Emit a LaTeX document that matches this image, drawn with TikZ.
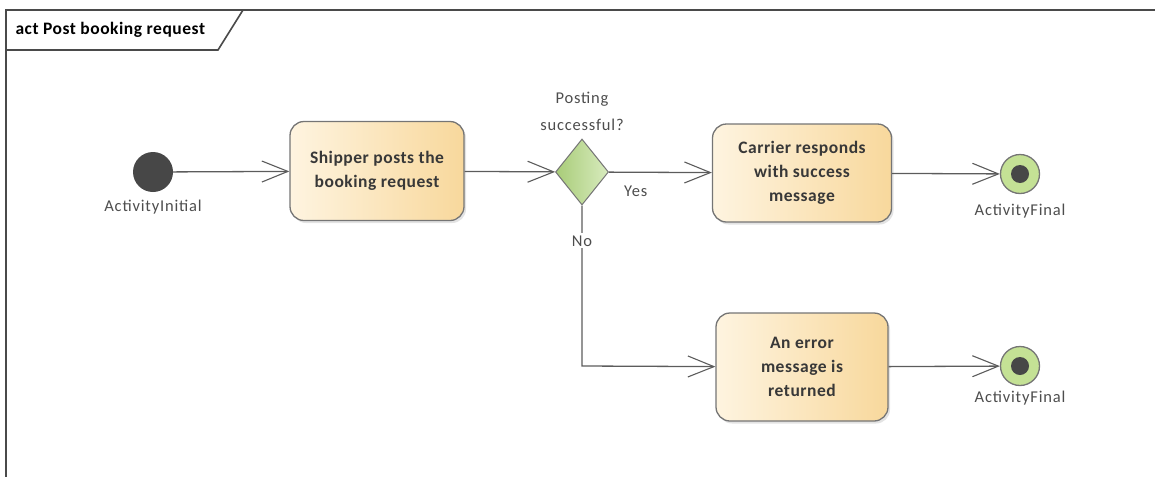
\documentclass[tikz,border=0pt]{standalone}
\usepackage{fontspec}
\setmainfont{Carlito}
\usetikzlibrary{arrows.meta,shapes.geometric,shadows}
\definecolor{framegray}{HTML}{4A4A4A}
\definecolor{linegray}{HTML}{5C5C5C}
\definecolor{boxedge}{HTML}{757575}
\definecolor{boxleft}{HTML}{FEF4E0}
\definecolor{boxright}{HTML}{F8D89C}
\definecolor{diamleft}{HTML}{A8CC78}
\definecolor{diamright}{HTML}{D8EBBE}
\definecolor{finalfill}{HTML}{C4E195}
\definecolor{dotgray}{HTML}{474747}
\definecolor{txtgray}{HTML}{383838}
\definecolor{lblgray}{HTML}{4D4D4D}
\tikzset{
  action/.style={rectangle, rounded corners=14pt, draw=boxedge, line width=1.3pt,
    left color=boxleft, right color=boxright, align=center, text=txtgray,
    font=\fontsize{17.5}{24}\selectfont\bfseries\addfontfeature{LetterSpace=3},
    drop shadow={opacity=0.22, shadow xshift=2pt, shadow yshift=-2.5pt}},
  decision/.style={diamond, draw=boxedge, line width=1pt, left color=diamleft,
    right color=diamright, inner sep=0pt, minimum width=53pt, minimum height=66pt},
  startdot/.style={circle, fill=dotgray, inner sep=0pt, minimum size=40pt},
  finalring/.style={circle, draw=boxedge, line width=1.3pt, fill=finalfill,
    inner sep=0pt, minimum size=39pt},
  finaldot/.style={circle, fill=dotgray, inner sep=0pt, minimum size=18pt},
  lbl/.style={text=lblgray, font=\fontsize{16.5}{27}\selectfont\addfontfeature{LetterSpace=5}, align=center},
  flow/.style={draw=linegray, line width=1.3pt,
    -{Straight Barb[length=26pt,width=21pt,line width=1.1pt]}},
  plain/.style={draw=linegray, line width=1.3pt}
}
\begin{document}
\begin{tikzpicture}[x=1pt,y=-1pt]
\useasboundingbox (0,0) rectangle (1155,477);
% diagram frame with name tab
\draw[framegray, line width=2pt] (1155,10) -- (6,10) -- (6,477);
\draw[framegray, line width=1.6pt] (6,50) -- (218,50) -- (243,10);
\node[anchor=west, text=black, font=\fontsize{17.5}{20}\selectfont\bfseries\addfontfeature{LetterSpace=3}] (title) at (12,30) {act Post booking request};

% nodes
\node[startdot] (init) at (153,172) {};
\node[lbl, anchor=north] (initlbl) at (153,197) {ActivityInitial};

\node[action, minimum width=174pt, minimum height=99pt] (post) at (377,171) {Shipper posts the\\booking request};

\node[decision] (dec) at (582,172) {};
\node[lbl] (declbl) at (582,111) {Posting\\successful?};

\node[action, minimum width=179pt, minimum height=98pt] (ok) at (802,173) {Carrier responds\\with success\\message};

\node[finalring] (fin1) at (1020,174) {};
\node[finaldot] (fin1dot) at (fin1.center) {};
\node[lbl, anchor=north] (fin1lbl) at (1020,201) {ActivityFinal};

\node[action, minimum width=172pt, minimum height=108pt] (err) at (802,367) {An error\\message is\\returned};

\node[finalring] (fin2) at (1020,366) {};
\node[finaldot] (fin2dot) at (fin2.center) {};
\node[lbl, anchor=north] (fin2lbl) at (1020,388) {ActivityFinal};

\coordinate (bend) at (582,366);

% flows
\draw[flow] (init) -- (post);
\draw[flow] (post) -- (dec);
\draw[flow] (dec) -- node[lbl, pos=0.26, below=10pt] (yes) {Yes} (ok);
\draw[flow] (ok) -- (fin1);
\draw[flow] (dec.south) -- node[lbl, fill=white, inner sep=2pt, pos=0.22] (no) {No} (bend) -- (err);
\draw[flow] (err) -- (fin2);
\end{tikzpicture}
\end{document}
